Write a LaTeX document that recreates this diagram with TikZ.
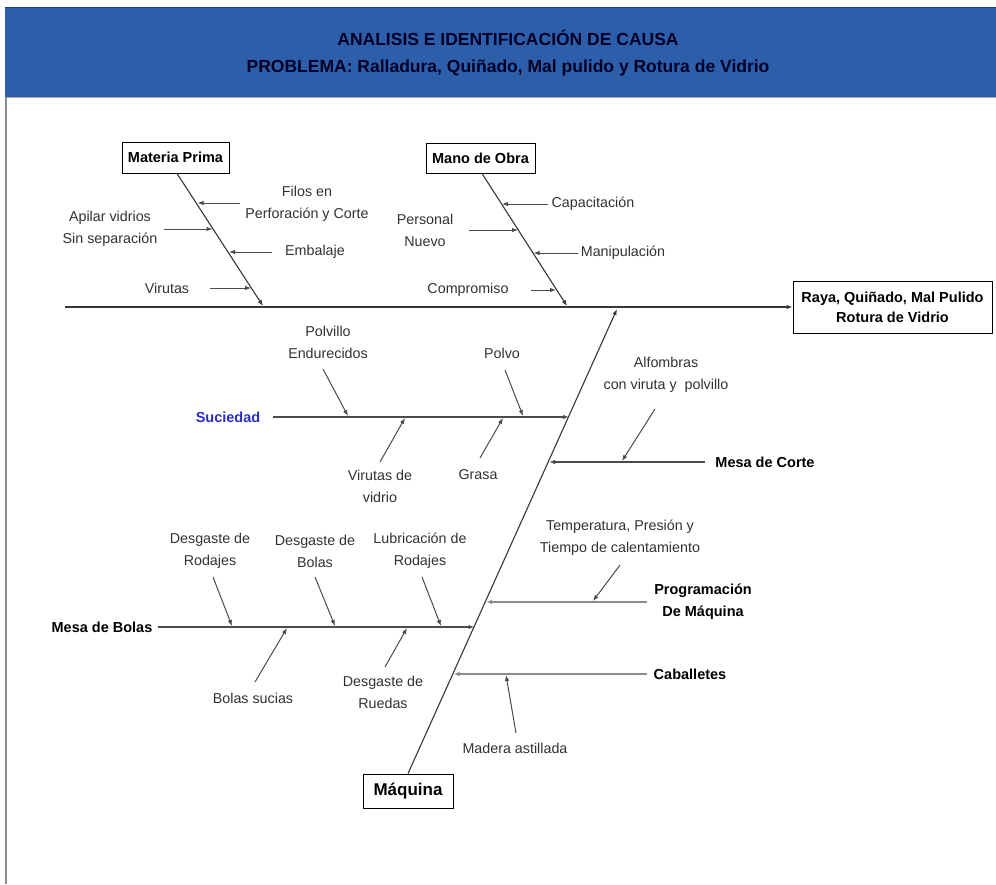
\documentclass[tikz,border=0pt]{standalone}
\usepackage{fontspec}
\setmainfont{Liberation Sans}
\usetikzlibrary{arrows.meta}
\definecolor{bandblue}{RGB}{44,94,170}
\definecolor{boneline}{RGB}{55,55,55}
\definecolor{twigline}{RGB}{75,75,75}
\definecolor{causetext}{RGB}{50,50,50}
\definecolor{catblue}{RGB}{45,45,190}

\begin{document}
\begin{tikzpicture}[x=1pt,y=-1pt,
  tipped/.style={-{Latex[length=6pt,width=4.5pt]}},
  bone/.style={draw=boneline, line width=1.1pt},
  branch/.style={draw=twigline, line width=1.2pt, tipped},
  twig/.style={draw=twigline, line width=1pt, tipped},
  cause/.style={font=\fontsize{14.3}{22}\selectfont, text=causetext, align=center, inner sep=0pt},
  catlabel/.style={font=\bfseries\fontsize{14.5}{22}\selectfont, align=center, inner sep=0pt},
  catbox/.style={draw=black, line width=0.9pt, font=\bfseries\fontsize{14.5}{20}\selectfont,
    align=center, inner sep=0pt},
  titletext/.style={font=\bfseries\fontsize{17.5}{20}\selectfont, text=black!85!blue, inner sep=0pt},
]
\useasboundingbox (0,0) rectangle (996,884);
\fill[white] (0,0) rectangle (996,884);

% heading band
\fill[bandblue] (5,7) rectangle (996,97);
\draw[bandblue!70!black, line width=1pt] (5,7.5) -- (996,7.5);
\draw[black!35, line width=1pt] (5,97.5) -- (996,97.5);
\draw[black!45, line width=1.5pt] (6,97) -- (6,884);
\node[titletext] (title1) at (508,38) {ANALISIS E IDENTIFICACIÓN DE CAUSA};
\node[titletext] (title2) at (508,68) {PROBLEMA: Ralladura, Quiñado, Mal pulido y Rotura de Vidrio};

% effect and main categories
\node[catbox, minimum width=199pt, minimum height=52pt] (effect) at (892.5,307)
  {Raya, Quiñado, Mal Pulido\\Rotura de Vidrio};
\node[catbox, minimum width=107pt, minimum height=31pt] (mp) at (175.5,157.5) {Materia Prima};
\node[catbox, minimum width=109pt, minimum height=30pt] (mo) at (480.5,158) {Mano de Obra};
\node[catbox, minimum width=90pt, minimum height=34pt, font=\bfseries\fontsize{17}{20}\selectfont]
  (maq) at (408,791) {Máquina};

% spine
\coordinate (tail) at (65,307);
\draw[bone, tipped] (tail) -- (effect.west);

% Materia Prima bone
\coordinate (mpEnd) at (263,306);
\draw[bone, tipped] ([xshift=1.5pt]mp.south) -- (mpEnd);
\node[cause] (filos) at (307,204) {Filos en\\Perforación y Corte};
\coordinate (filosS) at (240,203);  \coordinate (filosE) at (197.5,203);
\draw[twig] (filosS) -- (filosE);
\node[cause] (apilar) at (110,229) {Apilar vidrios\\Sin separación};
\coordinate (apilarS) at (164,229); \coordinate (apilarE) at (212.5,229);
\draw[twig] (apilarS) -- (apilarE);
\node[cause] (embalaje) at (315,252) {Embalaje};
\coordinate (embS) at (272,252);    \coordinate (embE) at (229,252);
\draw[twig] (embS) -- (embE);
\node[cause] (virutas) at (167,288) {Virutas};
\coordinate (virS) at (210,288);    \coordinate (virE) at (251,288);
\draw[twig] (virS) -- (virE);

% Mano de Obra bone
\coordinate (moEnd) at (567,306);
\draw[bone, tipped] ([xshift=1.5pt]mo.south) -- (moEnd);
\node[cause] (capac) at (593,204) {Capacitación};
\coordinate (capS) at (548,204);    \coordinate (capE) at (502,204);
\draw[twig] (capS) -- (capE);
\node[cause] (personal) at (425,230) {Personal\\Nuevo};
\coordinate (perS) at (469,230);    \coordinate (perE) at (518,230);
\draw[twig] (perS) -- (perE);
\node[cause] (manip) at (623,253) {Manipulación};
\coordinate (manS) at (578,253);    \coordinate (manE) at (533.5,253);
\draw[twig] (manS) -- (manE);
\node[cause] (compr) at (468,290) {Compromiso};
\coordinate (comS) at (531,290);    \coordinate (comE) at (556,290);
\draw[twig] (comS) -- (comE);

% Maquina bone
\coordinate (maqEnd) at (617,309);
\draw[bone, tipped] (maq.north) -- (maqEnd);

% Suciedad
\node[catlabel, text=catblue] (suc) at (228,417) {Suciedad};
\coordinate (sucS) at (273,417);    \coordinate (sucE) at (569,417);
\draw[branch] (sucS) -- (sucE);
\node[cause] (polvillo) at (328,342) {Polvillo\\Endurecidos};
\coordinate (pvlS) at (323,369);    \coordinate (pvlE) at (348,416);
\draw[twig] (pvlS) -- (pvlE);
\node[cause] (polvo) at (502,353) {Polvo};
\coordinate (pvoS) at (505,370);    \coordinate (pvoE) at (523,416);
\draw[twig] (pvoS) -- (pvoE);
\node[cause] (virvid) at (380,486) {Virutas de\\vidrio};
\coordinate (vvS) at (380,462);     \coordinate (vvE) at (405,418);
\draw[twig] (vvS) -- (vvE);
\node[cause] (grasa) at (478,475) {Grasa};
\coordinate (grS) at (480,458);     \coordinate (grE) at (503,418);
\draw[twig] (grS) -- (grE);

% Mesa de Corte
\node[catlabel] (corte) at (765,462) {Mesa de Corte};
\coordinate (corS) at (705,462);    \coordinate (corE) at (549,462);
\draw[branch] (corS) -- (corE);
\node[cause] (alfombras) at (666,375) {Alfombras\\con viruta y\ \ polvillo};
\coordinate (alfS) at (655,409);    \coordinate (alfE) at (622,461);
\draw[twig] (alfS) -- (alfE);

% Mesa de Bolas
\node[catlabel] (bolas) at (102,627) {Mesa de Bolas};
\coordinate (bolS) at (158,627);    \coordinate (bolE) at (474.5,627);
\draw[branch] (bolS) -- (bolE);
\node[cause] (dRod) at (210,551) {Desgaste de\\Rodajes};
\coordinate (dRodS) at (213,577);   \coordinate (dRodE) at (232,626);
\draw[twig] (dRodS) -- (dRodE);
\node[cause] (dBol) at (315,551) {Desgaste de\\Bolas};
\coordinate (dBolS) at (315,577);   \coordinate (dBolE) at (335,626);
\draw[twig] (dBolS) -- (dBolE);
\node[cause] (lub) at (420,551) {Lubricación de\\Rodajes};
\coordinate (lubS) at (422,577);    \coordinate (lubE) at (441,626);
\draw[twig] (lubS) -- (lubE);
\node[cause] (bsuc) at (253,698) {Bolas sucias};
\coordinate (bsS) at (255,682);     \coordinate (bsE) at (287,628);
\draw[twig] (bsS) -- (bsE);
\node[cause] (dRue) at (383,692) {Desgaste de\\Ruedas};
\coordinate (dRueS) at (385,667);   \coordinate (dRueE) at (407,628);
\draw[twig] (dRueS) -- (dRueE);

% Programacion de Maquina
\node[catlabel] (prog) at (703,602) {Programación\\De Máquina};
\coordinate (progS) at (647,602);   \coordinate (progE) at (486,602);
\draw[branch, draw=black!45, line width=1.8pt] (progS) -- (progE);
\node[cause] (temp) at (620,538) {Temperatura, Presión y\\Tiempo de calentamiento};
\coordinate (tempS) at (620,565);   \coordinate (tempE) at (593,601);
\draw[twig] (tempS) -- (tempE);

% Caballetes
\node[catlabel] (cab) at (690,674) {Caballetes};
\coordinate (cabS) at (647,674);    \coordinate (cabE) at (453.5,674);
\draw[branch, draw=black!45, line width=1.8pt] (cabS) -- (cabE);
\node[cause] (madera) at (515,748) {Madera astillada};
\coordinate (madS) at (516,733);    \coordinate (madE) at (506,675);
\draw[twig] (madS) -- (madE);
\end{tikzpicture}
\end{document}
